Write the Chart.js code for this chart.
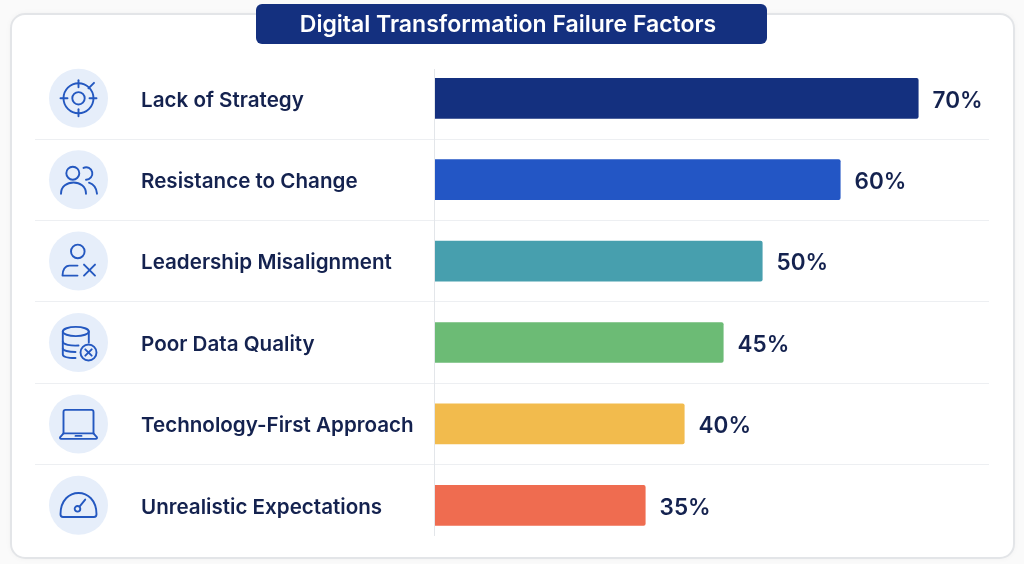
<!DOCTYPE html>
<html>
<head>
<meta charset="utf-8">
<script src="https://cdn.jsdelivr.net/npm/chart.js@4"></script>
<style>
html,body{margin:0;padding:0;background:#fafafa;overflow:hidden}
#wrap{position:relative;width:1024px;height:564px}
</style>
</head>
<body>
<div id="wrap"><canvas id="c" width="1024" height="564"></canvas></div>
<script>
const titleText = 'Digital Transformation Failure Factors';
const categories = ['Lack of Strategy','Resistance to Change','Leadership Misalignment','Poor Data Quality','Technology-First Approach','Unrealistic Expectations'];
const failureRates = [70,60,50,45,40,35];
const barColors = ['#14307f','#2356c5','#479fae','#6cbb75','#f2bb4d','#ef6c50'];

const NAVY='#14307f', INK='#14224f', ICON='#2458c0', DISC='#e6eefa', RULE='#edeff2';

const ring=(x,y,r)=>`M${x-r} ${y}A${r} ${r} 0 1 0 ${x+r} ${y}A${r} ${r} 0 1 0 ${x-r} ${y}`;

// Icon outlines, relative to the centre of each disc
const icons = [
  [ring(0,0,15),ring(0,0,6.2),'M0 -18V-11','M0 11V18','M-18 0H-11','M11 0H18','M10 -10L15.5 -15.5'],
  [ring(-5.7,-6.5,6.5),'M5 -11.8A6.2 6.2 0 1 1 7.5 0','M-17.5 14C-17.5 -1 7.5 -1 7.5 14','M10.5 3C15 4.5 18 8 18.5 14'],
  [ring(-0.7,-9.7,6.8),'M-1 4.5H-9C-13.5 4.5 -16 9 -16 14.5H-1','M5.5 3.5L16.5 14.5','M16.5 3.5L5.5 14.5'],
  ['M-15.7 -11A13 4.6 0 1 0 10.3 -11A13 4.6 0 1 0 -15.7 -11','M-15.7 -11V12C-15.7 14 -12 15.5 -3 15.5','M10.3 -11V0','M-15.7 -1C-15.7 2 -8 3.5 0 3','M-15.7 6C-15.7 8 -10 9.5 -3 9.5',ring(10,10,8),'M6.8 6.8L13.2 13.2','M13.2 6.8L6.8 13.2'],
  ['M-15 9.5V-12A2 2 0 0 1 -13 -14H13A2 2 0 0 1 15 -12V9.5','M-15 9.5H15L18.5 13.5A1.3 1.3 0 0 1 17.5 15H-17.5A1.3 1.3 0 0 1 -18.5 13.5Z','M-3 12H3'],
  ['M-15.5 11.7C-17 11.7 -18 10.7 -18 9C-18 -19.5 18 -19.5 18 9C18 10.7 17 11.7 15.5 11.7Z','M1 1.3L6.7 -5.7',ring(-1,3.5,2.8)]
];

function rr(ctx,x,y,w,h,r){ctx.beginPath();ctx.roundRect(x,y,w,h,r);}

const backdrop = {
  id:'backdrop',
  afterLayout(chart){
    // centre the title on the pill rather than on the padded chart box
    const t=chart.titleBlock; t.left=0; t.right=1016; t.width=1016;
  },
  beforeDraw(chart){
    const {ctx}=chart;
    ctx.save();
    ctx.shadowColor='rgba(0,0,0,0.05)';ctx.shadowBlur=6;
    rr(ctx,11,14,1003,544,14);
    ctx.fillStyle='#ffffff';ctx.fill();
    ctx.shadowColor='transparent';
    ctx.strokeStyle='#e3e5e8';ctx.lineWidth=2;ctx.stroke();
    rr(ctx,256,4,511,40,6);
    ctx.fillStyle=NAVY;ctx.fill();
    ctx.restore();
  }
};

const decorations = {
  id:'decorations',
  afterDatasetsDraw(chart){
    const {ctx}=chart, y=chart.scales.y, meta=chart.getDatasetMeta(0);
    ctx.save();
    ctx.strokeStyle='#e3e6ea';ctx.lineWidth=1;
    ctx.beginPath();ctx.moveTo(434.5,69);ctx.lineTo(434.5,536);ctx.stroke();
    categories.forEach((_,i)=>{
      const cy=y.getPixelForTick(i);
      ctx.save();
      ctx.translate(78.5,cy);
      ctx.beginPath();ctx.arc(0,0,29.5,0,Math.PI*2);
      ctx.fillStyle=DISC;ctx.fill();
      ctx.strokeStyle=ICON;ctx.lineWidth=1.9;ctx.lineCap='round';ctx.lineJoin='round';
      icons[i].forEach(d=>ctx.stroke(new Path2D(d)));
      ctx.restore();
    });
    ctx.font='600 22.5px Inter';ctx.fillStyle=INK;ctx.textAlign='left';ctx.textBaseline='middle';
    meta.data.forEach((bar,i)=>{
      ctx.fillText(failureRates[i]+'%',bar.x+14,bar.y+2.5);
    });
    ctx.restore();
  }
};

new Chart(document.getElementById('c'),{
  type:'bar',
  data:{labels:categories,datasets:[{data:failureRates,backgroundColor:barColors,borderRadius:2,borderSkipped:false,barPercentage:0.5,categoryPercentage:1}]},
  plugins:[backdrop,decorations],
  options:{
    indexAxis:'y',responsive:false,animation:false,devicePixelRatio:1,
    layout:{padding:{left:141,right:35,top:0,bottom:18}},
    plugins:{
      legend:{display:false},tooltip:{enabled:false},
      title:{display:true,text:titleText,color:'#ffffff',align:'center',font:{family:'Inter',size:23,weight:'600',lineHeight:1.2},padding:{top:11,bottom:19}}
    },
    scales:{
      x:{display:false,min:8,max:79.03,grid:{display:false}},
      y:{
        afterFit(s){s.width=294;},
        border:{display:false},
        grid:{
          offset:true,tickLength:400,drawTicks:true,
          color:c=>c.index>0?RULE:'transparent',
          tickColor:c=>c.index>0?RULE:'transparent',
          lineWidth:1
        },
        ticks:{crossAlign:'far',padding:0,labelOffset:2,color:INK,font:{family:'Inter',size:20.6,weight:'600'}}
      }
    }
  }
});
</script>
</body>
</html>
